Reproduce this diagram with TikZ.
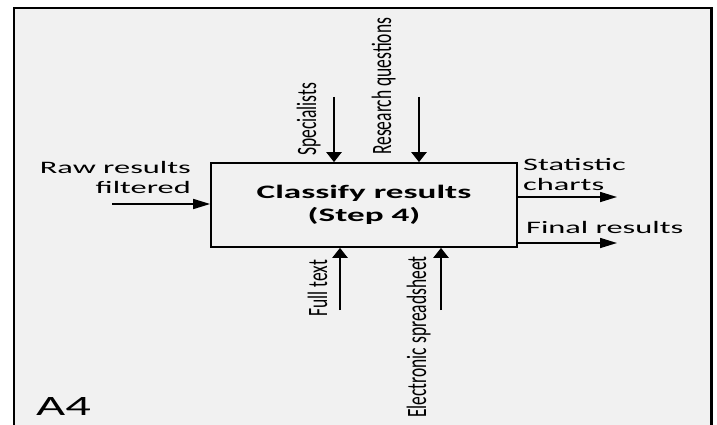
\documentclass[tikz,border=0pt]{standalone}
\usepackage{fontspec}
\setmainfont{Carlito}
\usetikzlibrary{arrows.meta}
\definecolor{panel}{HTML}{F1F1F1}
% horizontally widened text, and text thickened across its baseline (for rotated labels)
\newcommand{\hwide}[1]{\scalebox{1.85}[1]{#1}}
\newcommand{\vtall}[1]{\scalebox{1}[1.6]{#1}}

\begin{document}
\begin{tikzpicture}[x=1pt,y=-1pt,
  hflow/.style={line width=1.6pt,-{Triangle[length=17pt,width=10pt]}},
  vflow/.style={line width=2.4pt,-{Triangle[length=10pt,width=15pt]}},
  vlabel/.style={rotate=90,anchor=base west,inner sep=0pt,font=\fontsize{17.5}{20}\selectfont},
  hlabel/.style={inner sep=0pt,font=\fontsize{17.5}{20}\selectfont},
  activity/.style={draw,line width=1.7pt,fill=panel,minimum width=306pt,minimum height=84pt,
    align=center,font=\bfseries\fontsize{19}{23}\selectfont}
]
\useasboundingbox (0,0) rectangle (717,425);
\fill[white] (0,0) rectangle (717,425);

% diagram frame (open at the bottom)
\fill[panel] (14,8) rectangle (711.5,430);
\draw[line width=2.4pt] (14,430) -- (14,8) -- (711.5,8) -- (711.5,430);

% activity box
\node[activity] (box) at (364,205) {\hwide{Classify results}\\\hwide{(Step 4)}};

% input
\coordinate (rawsrc) at (112,204);
\draw[hflow] (rawsrc) -- (rawsrc -| box.west);
\node[hlabel,align=right,anchor=north east] (rawlbl) at (191,161) {\hwide{Raw results}\\\hwide{filtered}};

% controls
\coordinate (specsrc) at (334,97);
\coordinate (ressrc) at (419,97);
\draw[vflow] (specsrc) -- (specsrc |- box.north);
\draw[vflow] (ressrc) -- (ressrc |- box.north);
\node[vlabel] (speclbl) at (316,156) {\vtall{Specialists}};
\node[vlabel] (reslbl) at (391,155) {\vtall{Research questions}};

% mechanisms
\coordinate (ftsrc) at (340,310);
\coordinate (essrc) at (441,310);
\draw[vflow] (ftsrc) -- (ftsrc |- box.south);
\draw[vflow] (essrc) -- (essrc |- box.south);
\node[vlabel] (ftlbl) at (327,317) {\vtall{Full text}};
\node[vlabel] (eslbl) at (426,418) {\vtall{Electronic spreadsheet}};

% outputs
\coordinate (statdst) at (617,197);
\coordinate (finaldst) at (617,243);
\draw[hflow] (statdst -| box.east) -- (statdst);
\draw[hflow] (finaldst -| box.east) -- (finaldst);
\node[hlabel,align=left,anchor=north west] (statlbl) at (523,158) {\hwide{Statistic}\\\hwide{charts}};
\node[hlabel,anchor=base west] (finallbl) at (526,233) {\hwide{Final results}};

% node number
\node[inner sep=0pt,anchor=base west,font=\fontsize{28}{30}\selectfont] (idlbl) at (36,415) {\scalebox{1.8}[1]{A4}};
\end{tikzpicture}
\end{document}
